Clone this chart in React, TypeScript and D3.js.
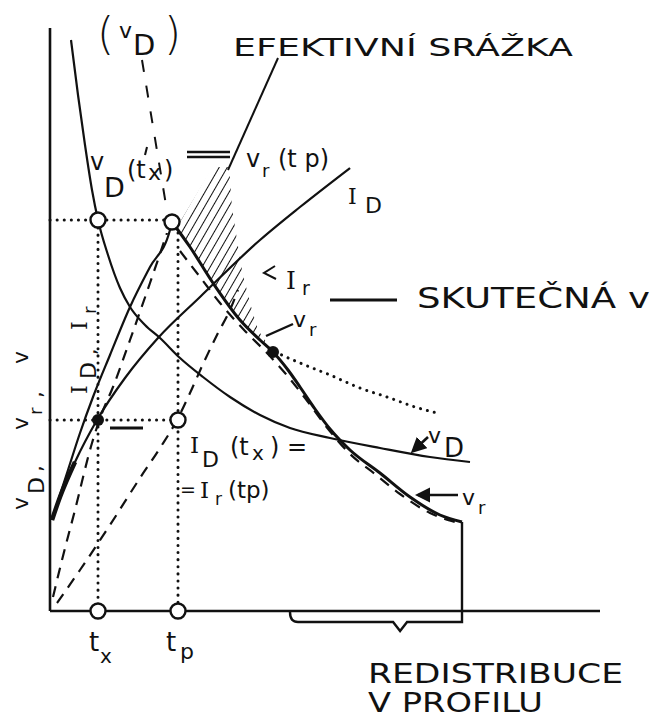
import React from "react";
import * as d3 from "d3";

type P = [number, number];

// time t along x, velocity v along y (units)
const vDCurve: P[] = [
  [2.1, 57.1], [2.8, 51.6], [3.5, 46.6], [4.2, 42.1], [4.8, 39.1], [5.8, 35.6],
  [7.0, 32.3], [8.0, 30.4], [9.5, 28.6], [11.0, 27.3], [13.0, 25.3], [15.3, 23.4],
  [18.0, 21.4], [21.0, 19.6], [24.0, 18.3], [28.0, 17.3], [33.0, 16.3], [38.0, 15.4], [42.0, 14.9],
];
const vrRise: P[] = [
  [0.5, 10.1], [1.8, 14.1], [3.0, 17.8], [4.3, 21.4], [6.0, 25.6], [8.0, 30.4],
  [10.0, 34.4], [12.0, 38.1], [12.2, 38.9],
];
const vrFall: P[] = [
  [12.2, 38.9], [14.0, 36.4], [16.3, 32.8], [19.0, 29.1], [21.0, 27.1], [22.3, 25.9],
  [23.8, 24.1], [25.0, 22.4], [26.5, 20.2], [28.0, 18.2], [30.0, 16.1], [33.0, 13.8],
  [36.0, 11.4], [39.0, 9.6], [41.2, 8.9],
];
const vrFallDashed: P[] = [
  [13.0, 36.0], [15.0, 33.4], [17.0, 30.8], [19.5, 28.0], [21.5, 26.0], [23.5, 23.8],
  [25.5, 21.3], [27.5, 18.6], [30.0, 15.7], [32.5, 13.7], [35.0, 11.7], [38.0, 9.8], [40.5, 8.9],
];
const iDCurve: P[] = [
  [0.2, 9.1], [1.0, 11.4], [2.5, 14.9], [4.7, 19.1], [7.5, 23.3], [10.8, 27.3],
  [15.0, 31.4], [21.0, 37.1], [25.0, 40.4], [30.0, 44.3],
];
const riseDashed: P[] = [
  [0.3, 1.4], [1.2, 5.1], [2.5, 10.1], [4.2, 16.8], [5.2, 19.8], [6.3, 22.4],
  [8.0, 27.1], [10.0, 32.8], [11.7, 37.8],
];
const iRCurve: P[] = [
  [0.7, 0.8], [3.0, 4.1], [6.0, 8.6], [9.0, 13.3], [11.0, 16.3], [12.7, 19.1],
  [14.0, 21.8], [15.3, 24.7], [16.8, 27.8], [18.0, 30.1], [18.8, 32.1],
];
const dottedTail: P[] = [
  [22.5, 25.9], [25.0, 24.8], [28.0, 23.6], [31.0, 22.3], [34.0, 21.3], [36.5, 20.4], [38.7, 19.8],
];
const hatchArea: P[] = [
  [13.0, 38.9], [16.3, 44.4], [17.9, 44.4], [18.2, 40.4], [18.7, 37.1], [19.2, 34.1],
  [20.0, 30.8], [20.8, 28.1], [22.3, 25.9], [21.0, 27.1], [19.0, 29.1], [16.3, 32.8],
  [14.0, 36.4], [13.0, 37.8],
];
const tx = 4.8;
const tp = 12.8;
const vAtTx = 39.1;
const iAtTx = 19.1;
const redistFrom = 24;
const redistTo = 41.2;
const vrEnd = 8.9;

const sans = "DejaVu Sans";
const serif = "DejaVu Serif";

export default function App() {
  const x = d3.scaleLinear().domain([0, 55]).range([50, 600]);
  const y = d3.scaleLinear().domain([0, 58]).range([611, 31]);

  const smooth = d3.line<P>().x(d => x(d[0])).y(d => y(d[1])).curve(d3.curveMonotoneX);
  const poly = d3.line<P>().x(d => x(d[0])).y(d => y(d[1]));

  const dot = { stroke: "#111", strokeWidth: 3, strokeDasharray: "0.1,7", strokeLinecap: "round" as const, fill: "none" };
  const dash = { stroke: "#111", strokeWidth: 2.2, strokeDasharray: "11,8", fill: "none" };
  const solid = { stroke: "#111", strokeWidth: 2.2, fill: "none" };

  const bY = y(0) + 11;
  const mid = x(redistFrom) + (x(redistTo) - x(redistFrom)) * 0.64;
  const brace = `M${x(redistFrom)},${y(0) + 1} Q${x(redistFrom)},${bY} ${x(redistFrom) + 8},${bY} L${mid - 7},${bY} L${mid},${bY + 9} L${mid + 7},${bY} L${x(redistTo)},${bY} L${x(redistTo)},${y(vrEnd)}`;

  return (
    <svg width={654} height={722} style={{ position: "absolute", left: 0, top: 0, background: "#fff" }}>
      <defs>
        <pattern id="hatch" width="7" height="7" patternUnits="userSpaceOnUse" patternTransform="rotate(30)">
          <line x1="0" y1="0" x2="0" y2="7" stroke="#111" strokeWidth="2" />
        </pattern>
        <marker id="arr" viewBox="0 0 10 10" refX="8" refY="5" markerWidth="6" markerHeight="6" orient="auto">
          <path d="M0,0 L10,5 L0,10 z" fill="#111" />
        </marker>
      </defs>

      {/* axes */}
      <line x1={x(0)} y1={y(0)} x2={x(0)} y2={y(58.3)} stroke="#111" strokeWidth={2.6} />
      <line x1={x(0)} y1={y(0)} x2={x(55)} y2={y(0)} stroke="#111" strokeWidth={2.6} />

      {/* hatched effective rainfall */}
      <path d={poly(hatchArea) + "Z"} fill="url(#hatch)" stroke="none" />

      {/* guide lines */}
      <line x1={x(0)} y1={y(vAtTx)} x2={x(12.2)} y2={y(vAtTx)} {...dot} />
      <line x1={x(tx)} y1={y(vAtTx) + 8} x2={x(tx)} y2={y(0)} {...dot} />
      <line x1={x(0)} y1={y(iAtTx)} x2={x(tp)} y2={y(iAtTx)} {...dot} />
      <line x1={x(tp)} y1={y(37.8)} x2={x(tp)} y2={y(0)} {...dot} />
      <line x1={x(9.2)} y1={y(55.1)} x2={x(11.6)} y2={y(40.6)} stroke="#111" strokeWidth={2} strokeDasharray="12,14" />

      {/* curves */}
      <path d={smooth(vDCurve)!} {...solid} />
      <path d={smooth(vrRise)!} {...solid} />
      <path d={smooth(iDCurve)!} {...solid} />
      <path d={smooth(iDCurve.slice(0, 3))!} stroke="#111" strokeWidth={4.5} fill="none" />
      <path d={smooth(vrFall)!} stroke="#111" strokeWidth={3} fill="none" />
      <path d={smooth(vrFallDashed)!} {...dash} />
      <path d={smooth(riseDashed)!} {...dash} />
      <path d={smooth(iRCurve)!} {...dash} />
      <path d={smooth(dottedTail)!} {...dot} />
      <path d={brace} stroke="#111" strokeWidth={2.4} fill="none" />

      {/* points */}
      {([[tx, vAtTx], [12.2, 38.9], [tp, iAtTx], [tx, 0], [tp, 0]] as P[]).map((d, i) => (
        <circle key={i} cx={x(d[0])} cy={y(d[1])} r={7.5} fill="#fff" stroke="#111" strokeWidth={2.4} />
      ))}
      {([[tx, iAtTx], [22.3, 25.9]] as P[]).map((d, i) => (
        <circle key={i} cx={x(d[0])} cy={y(d[1])} r={6} fill="#111" />
      ))}

      {/* leaders and arrows */}
      <line x1={278} y1={58} x2={228} y2={170} stroke="#111" strokeWidth={2} />
      <line x1={330} y1={300} x2={397} y2={300} stroke="#111" strokeWidth={3} />
      <line x1={266} y1={336} x2={293} y2={324} stroke="#111" strokeWidth={2.4} />
      <line x1={110} y1={428} x2={143} y2={428} stroke="#111" strokeWidth={3} />
      <line x1={428} y1={437} x2={413} y2={451} stroke="#111" strokeWidth={2.6} markerEnd="url(#arr)" />
      <line x1={458} y1={495} x2={418} y2={495} stroke="#111" strokeWidth={2.6} markerEnd="url(#arr)" />
      <path d="M275,266 L264,273 L276,279" stroke="#111" strokeWidth={2} fill="none" />
      <line x1={187} y1={152} x2={230} y2={152} stroke="#111" strokeWidth={2.4} />
      <line x1={187} y1={157} x2={230} y2={157} stroke="#111" strokeWidth={2.4} />
      <line x1={147} y1={147} x2={145} y2={155} stroke="#111" strokeWidth={2} />

      {/* labels */}
      <g fontFamily={sans} fill="#111">
        <text x={97} y={49} fontSize={44} fontWeight={300}>(</text>
        <text x={119} y={38} fontSize={22}>v</text>
        <text x={133} y={55} fontSize={29}>D</text>
        <text x={164} y={49} fontSize={44} fontWeight={300}>)</text>

        <text x={233} y={56} fontSize={25} textLength={340} lengthAdjust="spacingAndGlyphs">EFEKTIVNÍ SRÁŽKA</text>

        <text x={90} y={170} fontSize={24}>v</text>
        <text x={104} y={197} fontSize={27}>D</text>
        <text x={127} y={178} fontSize={24}>(t</text>
        <text x={148} y={180} fontSize={22}>x</text>
        <text x={164} y={178} fontSize={24}>)</text>

        <text x={246} y={167} fontSize={24}>v</text>
        <text x={262} y={177} fontSize={18}>r</text>
        <text x={278} y={167} fontSize={24}>(t p)</text>

        <text x={286} y={289} fontSize={25} fontFamily={serif}>I</text>
        <text x={302} y={295} fontSize={19}>r</text>
        <text x={417} y={308} fontSize={28} textLength={233} lengthAdjust="spacingAndGlyphs">SKUTEČNÁ v</text>

        <text x={348} y={204} fontSize={22} fontFamily={serif}>I</text>
        <text x={365} y={213} fontSize={22}>D</text>

        <text x={293} y={327} fontSize={22}>v</text>
        <text x={309} y={336} fontSize={18}>r</text>

        <text x={428} y={443} fontSize={22}>v</text>
        <text x={444} y={457} fontSize={26}>D</text>
        <text x={462} y={505} fontSize={22}>v</text>
        <text x={478} y={514} fontSize={18}>r</text>

        <text x={190} y={453} fontSize={23} fontFamily={serif}>I</text>
        <text x={202} y={467} fontSize={22}>D</text>
        <text x={230} y={455} fontSize={24}>(t</text>
        <text x={252} y={460} fontSize={20}>x</text>
        <text x={270} y={455} fontSize={24}>) =</text>
        <text x={180} y={496} fontSize={19}>=</text>
        <text x={200} y={498} fontSize={23} fontFamily={serif}>I</text>
        <text x={215} y={505} fontSize={17}>r</text>
        <text x={228} y={498} fontSize={23}>(tp)</text>

        <text x={89} y={651} fontSize={26}>t</text>
        <text x={100} y={663} fontSize={20}>x</text>
        <text x={166} y={651} fontSize={26}>t</text>
        <text x={180} y={659} fontSize={22}>p</text>

        <text x={368} y={683} fontSize={27} textLength={255} lengthAdjust="spacingAndGlyphs">REDISTRIBUCE</text>
        <text x={368} y={712} fontSize={27} textLength={175} lengthAdjust="spacingAndGlyphs">V PROFILU</text>

        <g transform="translate(28,510) rotate(-90)">
          <text x={0} y={0} fontSize={22}>v</text>
          <text x={16} y={16} fontSize={22}>D</text>
          <text x={38} y={14} fontSize={22}>,</text>
          <text x={80} y={0} fontSize={22}>v</text>
          <text x={95} y={14} fontSize={18}>r</text>
          <text x={112} y={14} fontSize={22}>,</text>
          <text x={146} y={0} fontSize={22}>v</text>
        </g>
        <g transform="translate(87,394) rotate(-90)">
          <text x={0} y={0} fontSize={22} fontFamily={serif}>I</text>
          <text x={15} y={9} fontSize={22}>D</text>
          <text x={39} y={9} fontSize={20}>,</text>
          <text x={64} y={0} fontSize={22} fontFamily={serif}>I</text>
          <text x={80} y={9} fontSize={18}>r</text>
        </g>
      </g>
    </svg>
  );
}
